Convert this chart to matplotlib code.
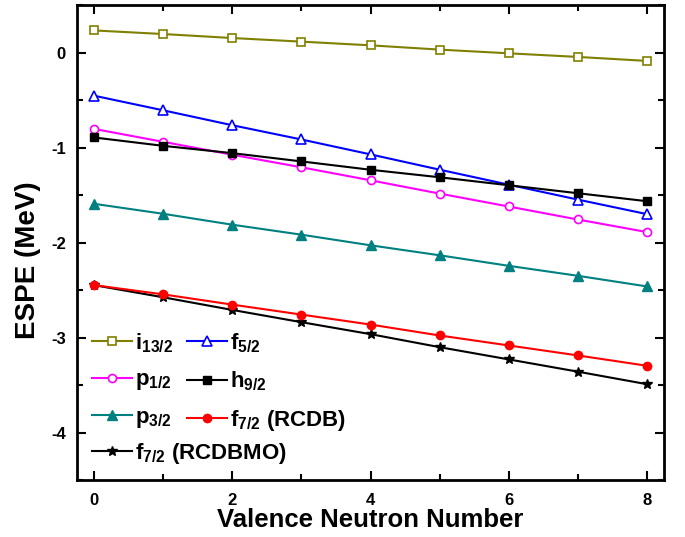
import matplotlib
matplotlib.use('Agg')
import matplotlib.pyplot as plt
from matplotlib.ticker import MultipleLocator

plt.rcParams['font.family'] = 'Liberation Sans'
plt.rcParams['font.weight'] = 'bold'
plt.rcParams['mathtext.fontset'] = 'custom'
plt.rcParams['mathtext.rm'] = 'Liberation Sans:bold'
plt.rcParams['mathtext.it'] = 'Liberation Sans:bold'
plt.rcParams['mathtext.bf'] = 'Liberation Sans:bold'
plt.rcParams['mathtext.default'] = 'rm'
plt.rcParams['axes.unicode_minus'] = False

# valence neutron number
n = [0, 1, 2, 3, 4, 5, 6, 7, 8]

# single particle energies (MeV)
i13 = [0.237, 0.199, 0.157, 0.119, 0.080, 0.035, -0.004, -0.042, -0.084]
f52 = [-0.451, -0.605, -0.762, -0.912, -1.069, -1.230, -1.388, -1.545, -1.698]
p12 = [-0.801, -0.937, -1.073, -1.205, -1.342, -1.482, -1.618, -1.755, -1.887]
h92 = [-0.891, -0.979, -1.056, -1.143, -1.231, -1.310, -1.394, -1.478, -1.562]
p32 = [-1.590, -1.695, -1.810, -1.915, -2.027, -2.132, -2.243, -2.348, -2.460]
f72_rcdb = [-2.447, -2.544, -2.652, -2.757, -2.862, -2.977, -3.082, -3.187, -3.296]
f72_rcdbmo = [-2.447, -2.575, -2.708, -2.837, -2.963, -3.100, -3.229, -3.358, -3.490]

fig = plt.figure(figsize=(6.85, 5.37), dpi=100)
ax = fig.add_axes([0.1124, 0.1061, 0.857, 0.8837])

lw = 1.5
l_i13, = ax.plot(n, i13, color='#808000', lw=lw, marker='s', ms=5.2, mfc='white', mew=1.2, label=r'i$_{13/2}$')
l_p12, = ax.plot(n, p12, color='#ff00ff', lw=lw, marker='o', ms=5.8, mfc='white', mew=1.2, label=r'p$_{1/2}$')
l_p32, = ax.plot(n, p32, color='#008080', lw=lw, marker='^', ms=6.5, label=r'p$_{3/2}$')
l_mo, = ax.plot(n, f72_rcdbmo, color='black', lw=lw, marker='*', ms=7, label=r'f$_{7/2}$ (RCDBMO)')
l_f52, = ax.plot(n, f52, color='#0000ff', lw=lw, marker='^', ms=6.5, mfc='white', mew=1.2, label=r'f$_{5/2}$')
l_h92, = ax.plot(n, h92, color='black', lw=lw, marker='s', ms=5.2, label=r'h$_{9/2}$')
l_rcdb, = ax.plot(n, f72_rcdb, color='#ff0000', lw=lw, marker='o', ms=6, label=r'f$_{7/2}$ (RCDB)')

ax.set_xlim(-0.25, 8.25)
ax.set_ylim(-4.5, 0.5)
ax.xaxis.set_major_locator(MultipleLocator(2))
ax.xaxis.set_minor_locator(MultipleLocator(1))
ax.yaxis.set_major_locator(MultipleLocator(1))
ax.yaxis.set_minor_locator(MultipleLocator(0.5))
ax.tick_params(which='both', direction='in', top=True, right=True, width=1.5, labelsize=12)
ax.tick_params(which='major', length=6.5)
ax.tick_params(which='minor', length=4.5)
ax.tick_params(axis='x', pad=9)
ax.tick_params(axis='y', pad=8)
for s in ax.spines.values():
    s.set_linewidth(2)

ax.set_xlabel('Valence Neutron Number', fontsize=18.5, fontweight='bold', labelpad=0)
ax.set_ylabel('ESPE (MeV)', fontsize=20, fontweight='bold', labelpad=7, y=0.464)

# two legends: the long RCDBMO label sits alone under the 2-column block
leg_kw = dict(frameon=False, fontsize=16, handlelength=1.8, handletextpad=0.15,
              borderpad=0, borderaxespad=0, loc='upper left')
leg1 = ax.legend(handles=[l_i13, l_p12, l_p32, l_f52, l_h92, l_rcdb], ncol=2,
                 columnspacing=0.6, labelspacing=0.66,
                 bbox_to_anchor=(0.0256, 0.314), **leg_kw)
ax.add_artist(leg1)
ax.legend(handles=[l_mo], bbox_to_anchor=(0.0256, 0.083), **leg_kw)

fig.savefig('out.png', dpi=100)
